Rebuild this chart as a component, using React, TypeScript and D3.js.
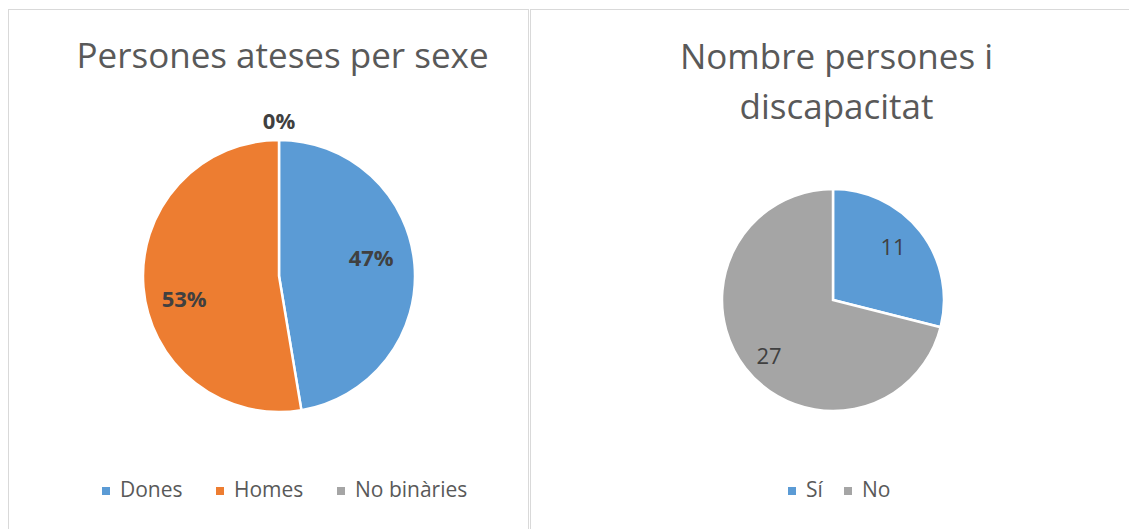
import React from "react";
import * as d3 from "d3";

// dades llegides del gràfic
const sexeCategories = ["Dones", "Homes", "No binàries"];
const sexeValues = [18, 20, 0];
const sexeColors = ["#5B9BD5", "#ED7D31", "#A5A5A5"];

const discCategories = ["Sí", "No"];
const discValues = [11, 27];
const discColors = ["#5B9BD5", "#A5A5A5"];

const FONT = "'Open Sans', 'Noto Sans', sans-serif";
const TEXT = "#595959";
const LABEL = "#404040";

interface PieProps {
  cx: number;
  cy: number;
  r: number;
  values: number[];
  colors: string[];
  percent: boolean;
  labelPos: [number, number][]; // [factor del radi, desplaçament vertical]
}

const Pie: React.FC<PieProps> = ({ cx, cy, r, values, colors, percent, labelPos }) => {
  const pie = d3.pie<number>().sort(null).value((d) => d);
  const arcs = pie(values);
  const arc = d3.arc<d3.PieArcDatum<number>>().innerRadius(0).outerRadius(r);
  const total = d3.sum(values);
  return (
    <g transform={`translate(${cx},${cy})`}>
      {arcs.map((a, i) =>
        a.value > 0 ? (
          <path key={i} d={arc(a) || ""} fill={colors[i]} stroke="#fff" strokeWidth={2.5} />
        ) : null
      )}
      {arcs.map((a, i) => {
        const mid = (a.startAngle + a.endAngle) / 2;
        const k = labelPos[i][0];
        const x = Math.sin(mid) * r * k;
        const y = -Math.cos(mid) * r * k + labelPos[i][1];
        const txt = percent ? `${Math.round((a.value / total) * 100)}%` : `${a.value}`;
        return (
          <text
            key={"t" + i}
            x={x}
            y={y}
            textAnchor="middle"
            dominantBaseline="central"
            fontFamily={FONT}
            fontSize={22}
            fontWeight={percent ? 700 : 400}
            fill={LABEL}
          >
            {txt}
          </text>
        );
      })}
    </g>
  );
};

interface LegendProps {
  x: number;
  y: number;
  items: string[];
  colors: string[];
  gaps: number[];
}

const Legend: React.FC<LegendProps> = ({ x, y, items, colors, gaps }) => {
  let pos = x;
  return (
    <g>
      {items.map((it, i) => {
        const px = pos;
        pos += gaps[i];
        return (
          <g key={it}>
            <rect x={px} y={y - 10} width={8} height={8} fill={colors[i]} />
            <text x={px + 18} y={y} fontFamily={FONT} fontSize={21} fill={TEXT}>
              {it}
            </text>
          </g>
        );
      })}
    </g>
  );
};

export default function App() {
  return (
    <svg
      width={1129}
      height={529}
      style={{ position: "absolute", left: 0, top: 0, background: "#fff" }}
    >
      <rect x={0} y={0} width={1129} height={529} fill="#fff" />
      {/* marcs */}
      <rect x={8.5} y={9.5} width={520} height={540} fill="none" stroke="#D9D9D9" strokeWidth={1} />
      <rect x={530.5} y={9.5} width={620} height={540} fill="none" stroke="#D9D9D9" strokeWidth={1} />

      {/* gràfic 1 */}
      <text x={282.5} y={68} textAnchor="middle" fontFamily={FONT} fontSize={35} fill={TEXT}>
        Persones ateses per sexe
      </text>
      <Pie
        cx={279}
        cy={276}
        r={136}
        values={sexeValues}
        colors={sexeColors}
        percent={true}
        labelPos={[
          [0.68, -11],
          [0.7, 14],
          [1.145, 0],
        ]}
      />
      <Legend x={102} y={497} items={sexeCategories} colors={sexeColors} gaps={[114, 121, 0]} />

      {/* gràfic 2 */}
      <text x={836.5} y={69} textAnchor="middle" fontFamily={FONT} fontSize={35} fill={TEXT}>
        Nombre persones i
      </text>
      <text x={836.5} y={119} textAnchor="middle" fontFamily={FONT} fontSize={35} fill={TEXT}>
        discapacitat
      </text>
      <Pie
        cx={833}
        cy={300}
        r={111}
        values={discValues}
        colors={discColors}
        percent={false}
        labelPos={[
          [0.685, -7],
          [0.73, 5],
        ]}
      />
      <Legend x={788} y={497} items={discCategories} colors={discColors} gaps={[56, 0]} />
    </svg>
  );
}
